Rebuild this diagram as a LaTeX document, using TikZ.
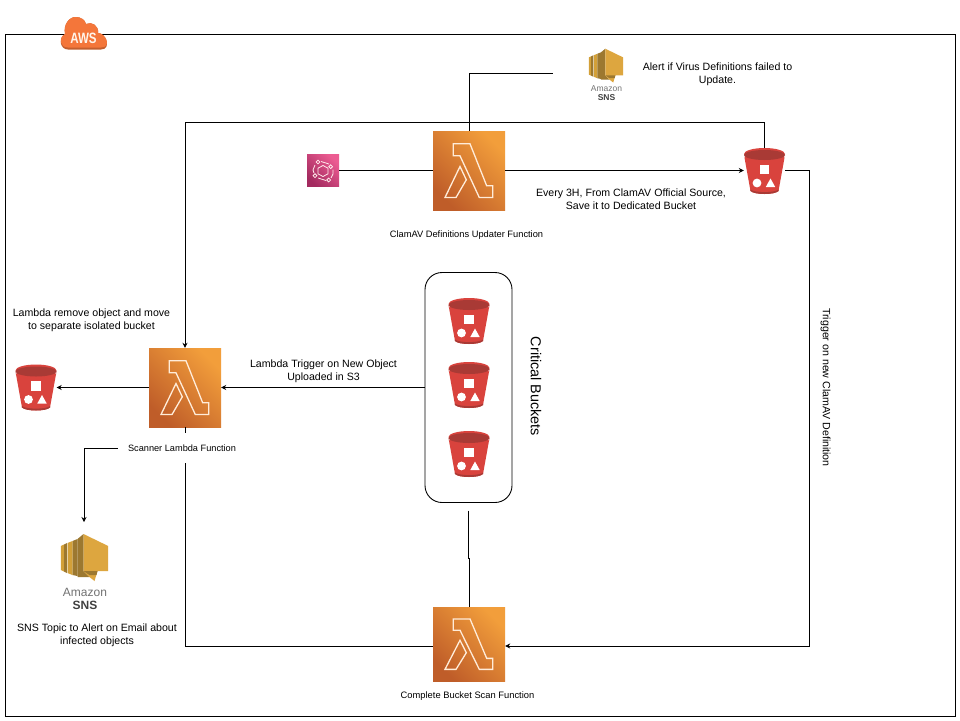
\documentclass[tikz,border=0pt]{standalone}
\usepackage{fontspec}
\setmainfont{Liberation Sans}
\usetikzlibrary{arrows.meta}
\definecolor{bucketred}{HTML}{D9433D}
\definecolor{bucketdark}{HTML}{A93A35}
\definecolor{snslight}{HTML}{DDA63F}
\definecolor{snsmid}{HTML}{D3A038}
\definecolor{snsdark}{HTML}{9C7830}
\definecolor{awsorange}{HTML}{F4763A}
\definecolor{lambdalight}{HTML}{F29E3B}
\definecolor{lambdadark}{HTML}{BF5D29}
\definecolor{eventlight}{HTML}{EC5C92}
\definecolor{eventdark}{HTML}{A32A5F}
\tikzset{
lambdabox/.style={rectangle,inner sep=0pt,minimum width=72pt,minimum height=#1,top color=lambdalight,bottom color=lambdadark,shading angle=-45},
lambdabox/.default=79pt,
bucketbox/.style={rectangle,inner sep=0pt,minimum width=41pt,minimum height=46pt},
snsbox/.style={rectangle,inner sep=0pt,minimum width=47pt,minimum height=48pt},
wire/.style={draw=black,line width=0.9pt},
arrowwire/.style={wire,-{Stealth[length=5pt,width=5pt]}},
txt/.style={inner sep=0pt,align=center,font=\fontsize{#1}{13}\selectfont},
txt/.default=10.6,
eventline/.style={draw=white!70!pink,line width=0.8pt},
lambdaicon/.pic={
\draw[white!85!orange,line width=1.3pt] (-15.7,-26.7) -- (1,-26.7) -- (17.7,15.3) -- (23.7,15.3) -- (23.7,27) -- (10.3,27) -- (-9,-14.7) -- (-15.7,-14.7) -- cycle;
\draw[white!85!orange,line width=1.3pt] (-9,-4) -- (-2.7,9.3) -- (-13,27) -- (-24,27) -- cycle;
},
bucketicon/.pic={
\fill[bucketred] (-20.5,-16) -- (-14,20) .. controls (-10,24) and (10,24) .. (14,20) -- (20.5,-16) -- cycle;
\fill[bucketdark] (-14,20) .. controls (-10,24) and (10,24) .. (14,20) -- (14.2,18.5) .. controls (10,22) and (-10,22) .. (-14.2,18.5) -- cycle;
\fill[white!75!bucketred] (-20.5,-15) arc[start angle=180,end angle=360,x radius=20.5,y radius=7] -- (20.2,-13) arc[start angle=0,end angle=180,x radius=20.2,y radius=-6.5] -- cycle;
\fill[bucketred] (0,-17) ellipse[x radius=20.5,y radius=6];
\fill[bucketdark] (0,-16) ellipse[x radius=20.5,y radius=5];
\fill[white] (-4.7,-6.2) rectangle (4.7,3.2);
\fill[white] (-7.5,12) circle (4.4);
\fill[white] (6,7.5) -- (10.7,16) -- (1.3,16) -- cycle;
},
snsicon/.pic={
\fill[snsmid] (-23.7,-12) -- (-20.5,-13.5) -- (-20.5,13.5) -- (-23.7,12) -- cycle;
\fill[snsdark] (-20.5,-13.5) -- (-17.5,-15) -- (-17.5,15) -- (-20.5,13.5) -- cycle;
\fill[snsmid] (-17,-15) -- (-12,-17) -- (-12,17) -- (-17,15) -- cycle;
\fill[snsdark] (-12,-17) -- (-7,-19) -- (-7,18) -- (-12,17) -- cycle;
\fill[snsdark] (-7,-19) -- (-1,-24) -- (-1,13) -- (5,19) -- (-7,19) -- cycle;
\fill[snslight] (-1,-24) -- (23.7,-12) -- (23.7,13) -- (13,13) -- (10,23) -- (5,19) -- (-1,13) -- cycle;
\fill[snsdark] (-1,13) -- (13,13) -- (12,17) -- (5,17) -- cycle;
}}
\begin{document}
\begin{tikzpicture}[x=1pt,y=-1pt]
\useasboundingbox (0,0) rectangle (960,720);
\fill[white] (0,0) rectangle (960,720);
\node[draw,line width=0.9pt,inner sep=0pt,minimum width=949.5pt,minimum height=681.5pt] (frame) at (480.25,375.25) {};
% cloud
\fill[awsorange!80!black] (68,49.5) .. controls (60,49.5) and (58,38) .. (65,34) .. controls (63,24) and (70,16.5) .. (76,17) .. controls (81,17) and (85,20) .. (86,24) .. controls (92,21) and (99,26) .. (98,33) .. controls (106,33) and (112,49.5) .. (101,49.5) -- cycle;
\fill[awsorange] (68,47.5) .. controls (60,47.5) and (58,38) .. (65,34) .. controls (63,24) and (70,16.5) .. (76,17) .. controls (81,17) and (85,20) .. (86,24) .. controls (92,21) and (99,26) .. (98,33) .. controls (106,33) and (112,47.5) .. (101,47.5) -- cycle;
\node[inner sep=0pt,text=white!92!orange,font=\bfseries\fontsize{15}{15}\selectfont,xscale=0.77] (awslabel) at (83.5,38) {AWS};
% lambdas
\node[lambdabox] (updater) at (469,170.5) {};
\pic at (updater) {lambdaicon};
\node[lambdabox] (scanner) at (185,387.5) {};
\pic at (scanner) {lambdaicon};
\node[lambdabox=74pt] (complete) at (469,644) {};
\pic[yscale=0.94] at (complete) {lambdaicon};
% buckets
\node[bucketbox] (defbucket) at (764.5,171) {};
\pic at (defbucket) {bucketicon};
\node[bucketbox] (isolated) at (36,387.5) {};
\pic at (isolated) {bucketicon};
\node[draw,line width=0.9pt,rounded corners=17pt,inner sep=0pt,minimum width=87pt,minimum height=230pt] (critical) at (468.5,387.5) {};
\node[bucketbox] (bucketa) at (469,321) {};
\pic at (bucketa) {bucketicon};
\node[bucketbox] (bucketb) at (469,385) {};
\pic at (bucketb) {bucketicon};
\node[bucketbox] (bucketc) at (469,454) {};
\pic at (bucketc) {bucketicon};
% events
\node[rectangle,inner sep=0pt,minimum size=32pt,top color=eventlight,bottom color=eventdark,shading angle=-45] (events) at (323,170.5) {};
\draw[eventline] (323,165.5) -- (328,168.2) -- (328,173.8) -- (323,176.5) -- (318,173.8) -- (318,168.2) -- cycle;
\foreach \a/\b in {318/162,330.7/166.7,315/175.7,328.7/180}
\draw[eventline] (\a,\b) circle (1.9);
\draw[eventline] (315,165) -- (313,170) -- (314,173);
\draw[eventline] (321,161.5) -- (329,164);
\draw[eventline] (333,169.5) -- (333,174) -- (331,178);
\draw[eventline] (318,178) -- (326,180.5);
% sns
\node[snsbox] (snstop) at (606,66) {};
\pic[scale=0.72] at (snstop) {snsicon};
\node[snsbox] (snsmain) at (84.5,558) {};
\pic at (snsmain) {snsicon};
\node[inner sep=0pt,text=black!55,font=\fontsize{8.5}{9}\selectfont] (snstopa) at (606.5,88.5) {Amazon};
\node[inner sep=0pt,text=black!75,font=\bfseries\fontsize{8.5}{9}\selectfont] (snstopb) at (606.5,98) {SNS};
\node[inner sep=0pt,text=black!55,font=\fontsize{12}{12}\selectfont] (snsmaina) at (85,592) {Amazon};
\node[inner sep=0pt,text=black!75,font=\bfseries\fontsize{12}{12}\selectfont] (snsmainb) at (85,605) {SNS};
% free ends
\coordinate (updaterend) at (553,73.5);
\coordinate (scanend) at (468.3,510.5);
\coordinate (scanjog) at (468.3,558);
% connectors
\draw[wire] (events.east) -- (updater.west);
\draw[arrowwire] (updater.east) -- (defbucket.west |- updater.east);
\draw[wire] (updater.north) |- (updaterend);
\draw[arrowwire] (defbucket.north) -- (764.5,122.5) -- (185,122.5) -- (scanner.north);
\draw[arrowwire] (defbucket.east |- updater.east) -- (809,170.5) -- (809,646) -- (complete.east |- 809,646);
\draw[arrowwire] (critical.west) -- (scanner.east);
\draw[arrowwire] (scanner.west) -- (isolated.east);
\draw[wire] (scanner.south) -- (185,646) -- (complete.west |- 809,646);
\draw[wire] (scanend) -- (scanjog) -| (complete.north);
% labels
\node[txt=9.2,fill=white,minimum width=128pt,minimum height=30pt] (scanlabel) at (182,448) {Scanner Lambda Function};
\draw[arrowwire] (scanlabel.west) -- (84,448) -- (84,522);
\node[txt=9.3] (updaterlabel) at (466.5,235) {ClamAV Definitions Updater Function};
\node[txt=9.35] (completelabel) at (467.5,696.5) {Complete Bucket Scan Function};
\node[txt] (alertlabel) at (717.5,74) {Alert if Virus Definitions failed to\\Update.};
\node[txt] (sourcelabel) at (631,199.5) {Every 3H, From ClamAV Official Source,\\Save it to Dedicated Bucket};
\node[txt] (removelabel) at (91.5,320) {Lambda remove object and move\\to separate isolated bucket};
\node[txt] (triggerlabel) at (323.5,371) {Lambda Trigger on New Object\\Uploaded in S3};
\node[txt] (snslabel) at (97,635) {SNS Topic to Alert on Email about\\infected objects};
\node[txt,rotate=-90] (newdeflabel) at (825.5,387.5) {Trigger on new ClamAV Definition};
\node[txt=14.4,rotate=-90] (criticallabel) at (536,386.5) {Critical Buckets};
\end{tikzpicture}
\end{document}
